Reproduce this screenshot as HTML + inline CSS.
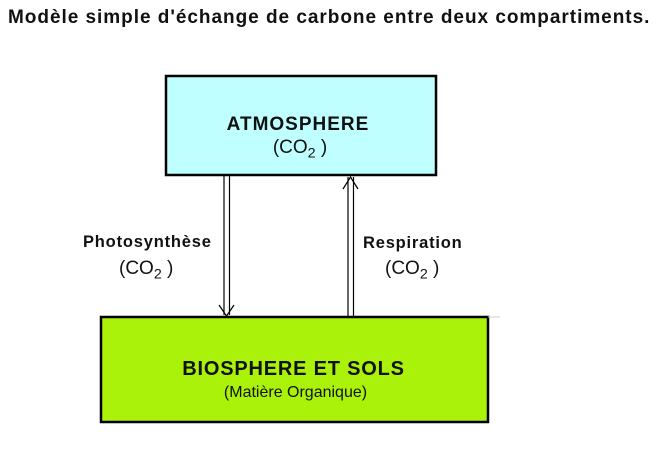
<!DOCTYPE html>
<html><head><meta charset="utf-8"><style>
body{margin:0;width:660px;height:451px;background:#fff;position:relative;font-family:"Liberation Sans",Arial,sans-serif;overflow:hidden}
.t{position:absolute;white-space:nowrap;color:#111}
sub{font-size:0.75em;vertical-align:-0.3em}
</style></head><body>
<div class="t" style="left:8px;top:7px;font-size:19px;letter-spacing:0.97px;font-weight:bold;">Modèle simple d'échange de carbone entre deux compartiments.</div>
<svg width="660" height="451" style="position:absolute;left:0;top:0">
<rect x="166" y="76" width="270" height="99" fill="#c0ffff" stroke="#000" stroke-width="2.5"/>
<rect x="101" y="317" width="387" height="105" fill="#aaf20a" stroke="#000" stroke-width="2.5"/>
<line x1="488" y1="317" x2="500" y2="317" stroke="#ccc" stroke-width="1"/>
<g stroke="#000" stroke-width="1.2" fill="none">
<line x1="224" y1="176" x2="224" y2="315"/><line x1="229.5" y1="176" x2="229.5" y2="315"/>
<polyline points="219,305 226.5,316 234,305"/>
<line x1="348" y1="177" x2="348" y2="316"/><line x1="353.5" y1="177" x2="353.5" y2="316"/>
<polyline points="343,189 350.5,177 358,189"/>
</g>
</svg>
<div class="t" style="left:162px;width:272px;text-align:center;top:114px;font-size:19px;letter-spacing:1px;font-weight:bold;">ATMOSPHERE</div>
<div class="t" style="left:164px;width:272px;text-align:center;top:137px;font-size:19px;">(CO<sub>2</sub> )</div>
<div class="t" style="left:83px;top:233px;font-size:16.5px;letter-spacing:0.8px;font-weight:bold;">Photosynthèse</div>
<div class="t" style="left:119px;top:258px;font-size:19px;">(CO<sub>2</sub> )</div>
<div class="t" style="left:363px;top:234px;font-size:16.5px;letter-spacing:0.8px;font-weight:bold;">Respiration</div>
<div class="t" style="left:385px;top:258px;font-size:19px;">(CO<sub>2</sub> )</div>
<div class="t" style="left:99px;width:389px;text-align:center;top:358px;font-size:20px;letter-spacing:0.8px;font-weight:bold;">BIOSPHERE ET SOLS</div>
<div class="t" style="left:101px;width:389px;text-align:center;top:384px;font-size:16px;">(Matière Organique)</div>
</body></html>
